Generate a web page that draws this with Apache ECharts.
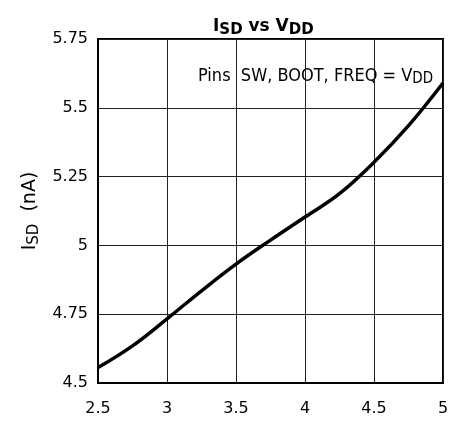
<!DOCTYPE html>
<html><head><meta charset="utf-8">
<script src="https://cdn.jsdelivr.net/npm/echarts@6/dist/echarts.min.js"></script>
<style>html,body{margin:0;padding:0;background:#fff}#c{width:455px;height:421px}</style>
</head><body><div id="c"></div>
<script>
const vdd = [2.5, 2.75, 3.0, 3.25, 3.5, 3.75, 4.0, 4.25, 4.5, 4.75, 5.0];
const isd = [4.556, 4.635, 4.733, 4.835, 4.932, 5.019, 5.103, 5.188, 5.302, 5.435, 5.59];
const xTicks = [2.5, 3, 3.5, 4, 4.5, 5];
const yTicks = [4.5, 4.75, 5, 5.25, 5.5, 5.75];

const FONT = 'DejaVu Sans';
const CFONT = 'DejaVu Sans Condensed';
const chart = echarts.init(document.getElementById('c'));
chart.setOption({
  backgroundColor: '#fff',
  animation: false,
  title: {
    text: '{b|I}{s|SD}{b| vs V}{s|DD}',
    left: 208, top: 8,
    textStyle: {
      rich: {
        b: {fontFamily: FONT, fontWeight: 'bold', fontSize: 17, color: '#000', verticalAlign: 'bottom', lineHeight: 22},
        s: {fontFamily: FONT, fontWeight: 'bold', fontSize: 15, color: '#000', verticalAlign: 'bottom', lineHeight: 22, padding: [0,0,-3,0]}
      }
    }
  },
  grid: {left: 98, right: 12, top: 39, bottom: 38, show: true, borderColor: '#000', borderWidth: 2},
  xAxis: {
    type: 'value', min: xTicks[0], max: xTicks[xTicks.length-1], interval: 0.5,
    axisLine: {show: true, lineStyle: {color: '#000', width: 2}},
    axisTick: {show: false},
    axisLabel: {color: '#000', fontFamily: FONT, fontSize: 16, margin: 18,
      formatter: v => xTicks.includes(+v.toFixed(2)) ? String(+v.toFixed(2)) : ''},
    splitLine: {show: true, lineStyle: {color: '#222', width: 1}}
  },
  yAxis: {
    type: 'value', min: yTicks[0], max: yTicks[yTicks.length-1], interval: 0.25,
    name: '{n|I}{s|SD}{n|  (nA)}', nameLocation: 'middle', nameRotate: 90, nameGap: 52,
    nameTextStyle: {
      rich: {
        n: {fontFamily: FONT, fontSize: 19, color: '#000'},
        s: {fontFamily: FONT, fontSize: 15, color: '#000', padding: [0,0,-7,0]}
      }
    },
    axisLine: {show: true, lineStyle: {color: '#000', width: 2}},
    axisTick: {show: false},
    axisLabel: {color: '#000', fontFamily: FONT, fontSize: 16, margin: 10,
      formatter: v => String(+v.toFixed(2))},
    splitLine: {show: true, lineStyle: {color: '#222', width: 1}}
  },
  graphic: [{
    type: 'text', left: 198, top: 67,
    style: {
      text: '{a|Pins  SW, BOOT, FREQ = V}{s|DD}',
      rich: {
        a: {fontFamily: CFONT, fontSize: 18, fill: '#000'},
        s: {fontFamily: CFONT, fontSize: 15, fill: '#000', padding: [0,0,-7,0]}
      }
    }
  }],
  series: [{
    type: 'line', smooth: 0.4, showSymbol: false,
    data: vdd.map((v, i) => [v, isd[i]]),
    lineStyle: {color: '#000', width: 3.5},
    clip: true
  }]
});
</script></body></html>
